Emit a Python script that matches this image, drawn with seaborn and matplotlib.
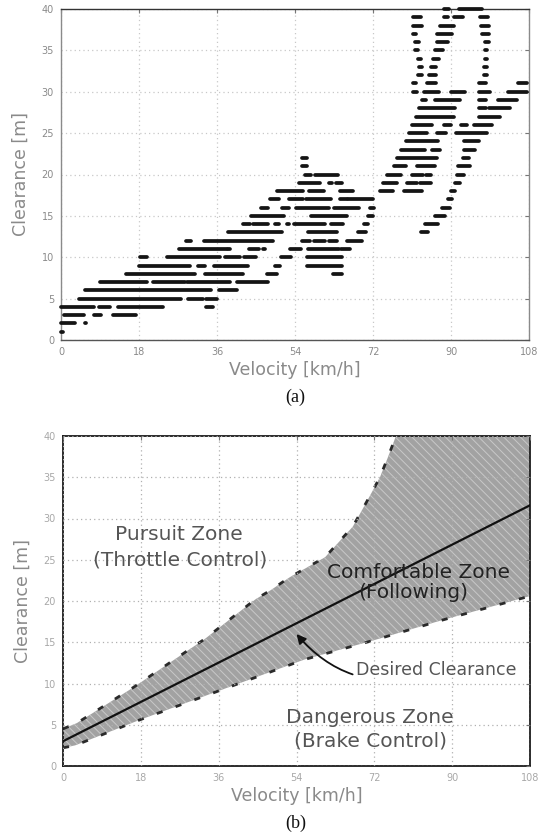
import matplotlib
matplotlib.use("Agg")
import matplotlib.pyplot as plt
import seaborn as sns

# ---- shared axis settings ----
x_ticks = [0, 18, 36, 54, 72, 90, 108]
y_ticks = [0, 5, 10, 15, 20, 25, 30, 35, 40]

# ---- panel (a): measured clearance, one row per metre, spans in km/h ----
a_rows = list(range(1, 41))
a_spans = [
    [(0, 0.4)],
    [(0, 3.2), (5.5, 5.7), (11.2, 11.4)],
    [(0.8, 5.3), (7.5, 9.2), (12.1, 17.3)],
    [(0, 7.6), (8.8, 11.2), (13.1, 23.6), (33.4, 35.1)],
    [(4.1, 27.6), (29.2, 32.7), (33.5, 36.0)],
    [(5.5, 34.7), (36.5, 40.5)],
    [(9.1, 19.8), (21.3, 28.5), (29, 39), (40.6, 47.8)],
    [(15, 31), (33.2, 42.1), (47.5, 49.9), (62.8, 64.8)],
    [(18, 29.8), (31.5, 33.2), (35.4, 43.2), (49.4, 50.5), (56.8, 64.8)],
    [(18.3, 19.8), (24.4, 36.8), (37.9, 41.3), (42.2, 45), (50.7, 53.1), (56.8, 64.8)],
    [(27.3, 38.2), (38.6, 39), (43.4, 45.8), (46.6, 47.1), (52.9, 55.3), (57.1, 64.2), (64.6, 66.7)],
    [(28.9, 30.1), (32.9, 49), (55.6, 57.5), (58.3, 61), (61.8, 63.6), (65.9, 69.4)],
    [(38.6, 51), (57, 63.6), (68.5, 70.4), (83, 84.6)],
    [(41.9, 43.6), (44.4, 47.8), (49.4, 50.2), (52.2, 52.6), (53.8, 61), (62.2, 65.1), (69.9, 70.9), (84, 87.1)],
    [(43.8, 51.4), (57.8, 65.9), (70.9, 72), (86.4, 88.5)],
    [(46.2, 47.8), (51, 52.6), (54.2, 61.8), (62.9, 68.7), (71.3, 72.3), (88, 89.7)],
    [(48.2, 50.2), (52.6, 55.8), (56.5, 62.2), (64.3, 65.9), (66.3, 71.9), (89.4, 90.2)],
    [(49.8, 55.9), (57.2, 60.8), (64.3, 67.3), (73.7, 76.5), (79.1, 83.2), (89.9, 91)],
    [(54.9, 59.8), (61.8, 62.5), (63.5, 64.8), (74.2, 77.5), (79.9, 82.2), (82.8, 85.3), (90.9, 92)],
    [(56.3, 57.7), (58.6, 64), (75.3, 78.5), (81, 83.5), (84.2, 85.4), (91.3, 92.9)],
    [(55.5, 56.7), (76.9, 79.6), (82.1, 86.3), (91.6, 94.3)],
    [(55.5, 56.7), (77.6, 86.7), (92.7, 94.2)],
    [(78.5, 84), (85.7, 87.5), (93, 95.5)],
    [(79.6, 87.1), (93, 96.5)],
    [(80.3, 84.4), (86.8, 88.8), (91.2, 98.2)],
    [(81, 85.5), (88.4, 89.9), (92.2, 93.7), (95.2, 99.4)],
    [(81.9, 90.6), (96.5, 101.3)],
    [(82.5, 91), (96.5, 98), (98.8, 103.7)],
    [(83.2, 84.3), (86.2, 92), (96.5, 98.1), (100.8, 105.2)],
    [(81.3, 82.2), (83.8, 87.2), (89.9, 93.3), (96.5, 99), (103.1, 107.6)],
    [(81.3, 82), (84.5, 86.6), (96.5, 98.1), (105.4, 107.6)],
    [(82.4, 83.2), (85, 86.5), (97.7, 98.3)],
    [(82.5, 83.2), (85.3, 86.5), (97.7, 98.4)],
    [(82.3, 83), (85.8, 87.2), (97.8, 98.4)],
    [(81.8, 82.4), (86.4, 88.2), (97.8, 98.4)],
    [(81.6, 82.5), (86.7, 89.2), (97.8, 98.8)],
    [(81.3, 81.9), (86.8, 90.2), (97.2, 98.8)],
    [(81.3, 83.2), (87.4, 90.6), (97, 98.8)],
    [(81.3, 83), (88.3, 89.4), (90.7, 92.8), (96.8, 98.6)],
    [(88.3, 89.6), (91.9, 97.2)],
]

# ---- panel (b): zone boundaries and desired clearance ----
upper_v = [0, 3.2, 16.2, 32.8, 44.5, 48, 52.5, 60.6, 67, 70.2, 73.3, 75.2, 77]
upper_c = [4.5, 5.2, 9.5, 15.4, 20.2, 21.3, 22.9, 25.3, 29, 32, 35, 37.5, 40]
lower_v = [0, 2.8, 17.8, 41.7, 55.8, 71.6, 87.8, 108]
lower_c = [2.2, 2.5, 5.6, 10.2, 12.9, 15.2, 17.7, 20.6]
desired_v = [0, 108]
desired_c = [3.0, 31.6]


sns.set_theme(style="white", rc={"hatch.linewidth": 0.7})
plt.rcParams["font.family"] = ["DejaVu Sans"]

fig = plt.figure(figsize=(5.46, 8.4), dpi=100)
ax_a = fig.add_axes([61 / 546, 1 - 340 / 840, 468 / 546, 331 / 840])
ax_b = fig.add_axes([63 / 546, 1 - 766 / 840, 467 / 546, 330 / 840])


def style_axes(ax, grid_color, tick_color, label_color):
    ax.set_xlim(0, 108)
    ax.set_ylim(0, 40)
    ax.set_xticks(x_ticks)
    ax.set_yticks(y_ticks)
    ax.grid(True, color=grid_color, linestyle=(0, (1, 2.5)), linewidth=0.9)
    ax.tick_params(direction="in", length=3, width=0.8, top=True, right=True,
                   labelsize=7, pad=5, colors="#777777")
    ax.tick_params(labelcolor=tick_color)
    ax.set_xlabel("Velocity [km/h]", fontsize=12.5, color=label_color, va="center")
    ax.set_ylabel("Clearance [m]", fontsize=12.5, color=label_color, va="center")
    ax.xaxis.set_label_coords(0.5, -30 / 331)
    ax.yaxis.set_label_coords(-40 / 468, 0.5)


# (a) scattered measurements drawn as short horizontal dashes
seg_c, seg_v0, seg_v1 = [], [], []
for c, spans in zip(a_rows, a_spans):
    for v0, v1 in spans:
        seg_c.append(c)
        seg_v0.append(v0)
        seg_v1.append(v1)
ax_a.hlines(seg_c, seg_v0, seg_v1, colors="#141414", linewidth=2.7,
            capstyle="round", clip_on=False, zorder=3)
style_axes(ax_a, "#c8c8c8", "#8a8a8a", "#8a8a8a")
for side, col in [("top", "#333333"), ("bottom", "#555555"),
                  ("left", "#8a8a8a"), ("right", "#8a8a8a")]:
    ax_a.spines[side].set_color(col)
    ax_a.spines[side].set_linewidth(1.0)

# (b) comfortable zone
poly_v = upper_v + [108] + lower_v[::-1]
poly_c = upper_c + [40] + lower_c[::-1]
ax_b.fill(poly_v, poly_c, facecolor="#a2a2a2", edgecolor="#c8c8c8",
          linewidth=0, hatch="\\\\\\\\", zorder=1)
sns.lineplot(x=upper_v, y=upper_c, ax=ax_b, color="#2a2a2a", linewidth=2,
             linestyle=(0, (2.2, 5)), sort=False, zorder=2)
sns.lineplot(x=lower_v, y=lower_c, ax=ax_b, color="#2a2a2a", linewidth=2,
             linestyle=(0, (2.2, 5)), sort=False, zorder=2)
sns.lineplot(x=desired_v, y=desired_c, ax=ax_b, color="#111111", linewidth=1.6,
             sort=False, zorder=3)
style_axes(ax_b, "#b0b0b0", "#a8a8a8", "#8a8a8a")
ax_b.set_axisbelow(False)
for side in ["top", "bottom", "left", "right"]:
    ax_b.spines[side].set_color("#1a1a1a")
    ax_b.spines[side].set_linewidth(1.3)

zone_kw = dict(ha="center", va="center", fontsize=14.5, zorder=5)
ax_b.text(26.8, 28.0, "Pursuit Zone", color="#555555", **zone_kw)
ax_b.text(27.0, 25.0, "(Throttle Control)", color="#555555", **zone_kw)
ax_b.text(82.1, 23.5, "Comfortable Zone", color="#222222", **zone_kw)
ax_b.text(80.9, 21.0, "(Following)", color="#222222", **zone_kw)
ax_b.text(71.0, 5.9, "Dangerous Zone", color="#555555", **zone_kw)
ax_b.text(71.0, 3.0, "(Brake Control)", color="#555555", **zone_kw)
ax_b.annotate("Desired Clearance", xy=(54.0, 16.0), xytext=(86.3, 11.6),
              ha="center", va="center", fontsize=12.5, color="#555555", zorder=5,
              arrowprops=dict(arrowstyle="-|>", color="#111111", lw=1.3,
                              shrinkA=64, shrinkB=0, mutation_scale=14,
                              connectionstyle="arc3,rad=-0.35"))

fig.text(295 / 546, 1 - 397 / 840, "(a)", ha="center", va="center",
         fontsize=13, color="#111111", family=["Liberation Serif"])
fig.text(296 / 546, 1 - 823 / 840, "(b)", ha="center", va="center",
         fontsize=13, color="#111111", family=["Liberation Serif"])

fig.savefig("out.png", dpi=100)
plt.close(fig)
